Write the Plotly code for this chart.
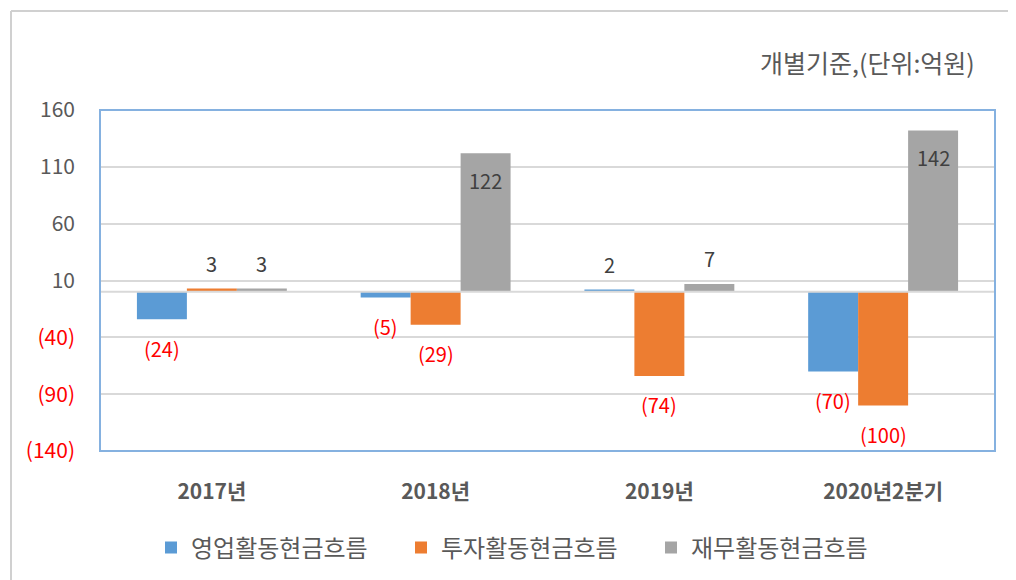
import plotly.graph_objects as go

categories = ["2017년", "2018년", "2019년", "2020년2분기"]
series_names = ["영업활동현금흐름", "투자활동현금흐름", "재무활동현금흐름"]
operating = [-24, -5, 2, -70]
investing = [3, -29, -74, -100]
financing = [3, 122, 7, 142]
series_values = [operating, investing, financing]
series_colors = ["#5b9bd5", "#ed7d31", "#a5a5a5"]
inside_labels = {(2, 1), (2, 3)}  # (series, category) labels drawn inside bar end

y_ticks = [160, 110, 60, 10, -40, -90, -140]

# page offset of the figure (body margin)
OFF = 8
PAGE_W, PAGE_H = 1016, 580
W, H = PAGE_W - OFF, PAGE_H - OFF
# plot area in page pixels
PX0, PX1, PY0, PY1 = 100, 995, 110, 451
L, T = PX0 - OFF, PY0 - OFF
R, B = W - (PX1 - OFF), H - (PY1 - OFF)
PW, PH = PX1 - PX0, PY1 - PY0


def px_x(x):
    return (x - PX0) / PW


def px_y(y):
    return (PY1 - y) / PH


def fmt(v):
    return f"({abs(v)})" if v < 0 else f"{v}"


GRAY_TXT = "#595959"
RED = "#ff0000"
FONT = "Noto Sans CJK KR, Malgun Gothic, sans-serif"

fig = go.Figure()
for name, vals, col in zip(series_names, series_values, series_colors):
    fig.add_trace(go.Bar(
        x=categories, y=vals, name=name,
        marker=dict(color=col, line=dict(width=0)),
        hoverinfo="x+y",
    ))

# data labels
bar_px = 50
annotations = []
for si, vals in enumerate(series_values):
    for ci, v in enumerate(vals):
        if (si, ci) in inside_labels:
            ys = -27
        elif v < 0:
            ys = -29
        else:
            ys = 25
        annotations.append(dict(
            x=categories[ci], y=v, xref="x", yref="y",
            xshift=(si - 1) * bar_px, yshift=ys,
            text=fmt(v), showarrow=False,
            font=dict(size=20, color=RED if v < 0 else "#404040", family=FONT),
        ))

annotations.append(dict(
    x=px_x(977), y=px_y(62), xref="paper", yref="paper",
    xanchor="right", yanchor="middle", text="개별기준,(단위:억원)",
    showarrow=False, font=dict(size=25, color=GRAY_TXT, family=FONT),
))

tick_text = [
    f'<span style="color:{RED}">{fmt(v)}</span>' if v < 0 else fmt(v)
    for v in y_ticks
]

shapes = [
    # zero axis line drawn over the bars
    dict(type="line", xref="paper", yref="y", x0=0, x1=1, y0=0, y1=0,
         line=dict(color="#d9d9d9", width=2), layer="above"),
    # plot-area border
    dict(type="rect", xref="paper", yref="paper", x0=0, x1=1, y0=0, y1=1,
         line=dict(color="#85b1e0", width=2), layer="above"),
    # outer frame lines
    dict(type="line", xref="paper", yref="paper", x0=px_x(11), x1=px_x(11),
         y0=px_y(11), y1=px_y(580), line=dict(color="#d0d0d0", width=2)),
    dict(type="line", xref="paper", yref="paper", x0=px_x(11), x1=px_x(1016),
         y0=px_y(11), y1=px_y(11), line=dict(color="#d0d0d0", width=2)),
]

fig.update_layout(
    width=W, height=H,
    margin=dict(l=L, r=R, t=T, b=B, autoexpand=False),
    paper_bgcolor="white", plot_bgcolor="white",
    barmode="group", bargap=0.33, bargroupgap=0,
    font=dict(family=FONT, color=GRAY_TXT),
    annotations=annotations, shapes=shapes,
    legend=dict(
        orientation="h", x=px_x(151), y=px_y(548),
        xanchor="left", yanchor="middle",
        font=dict(size=24, color=GRAY_TXT, family=FONT),
        itemwidth=30, entrywidth=205, entrywidthmode="pixels",
        tracegroupgap=0, itemclick=False,
    ),
    showlegend=True,
)
fig.update_xaxes(
    showgrid=False, showline=False, ticks="",
    tickfont=dict(size=21, color=GRAY_TXT, family=FONT, weight="bold"),
    ticklabelstandoff=26,
)
fig.update_yaxes(
    range=[-140, 160], tickvals=y_ticks, ticktext=tick_text,
    showgrid=True, gridcolor="#d9d9d9", gridwidth=2,
    zeroline=False,
    showline=False, ticks="", ticklabelstandoff=24,
    tickfont=dict(size=21, color=GRAY_TXT, family=FONT),
)

fig.write_html("out.html")
